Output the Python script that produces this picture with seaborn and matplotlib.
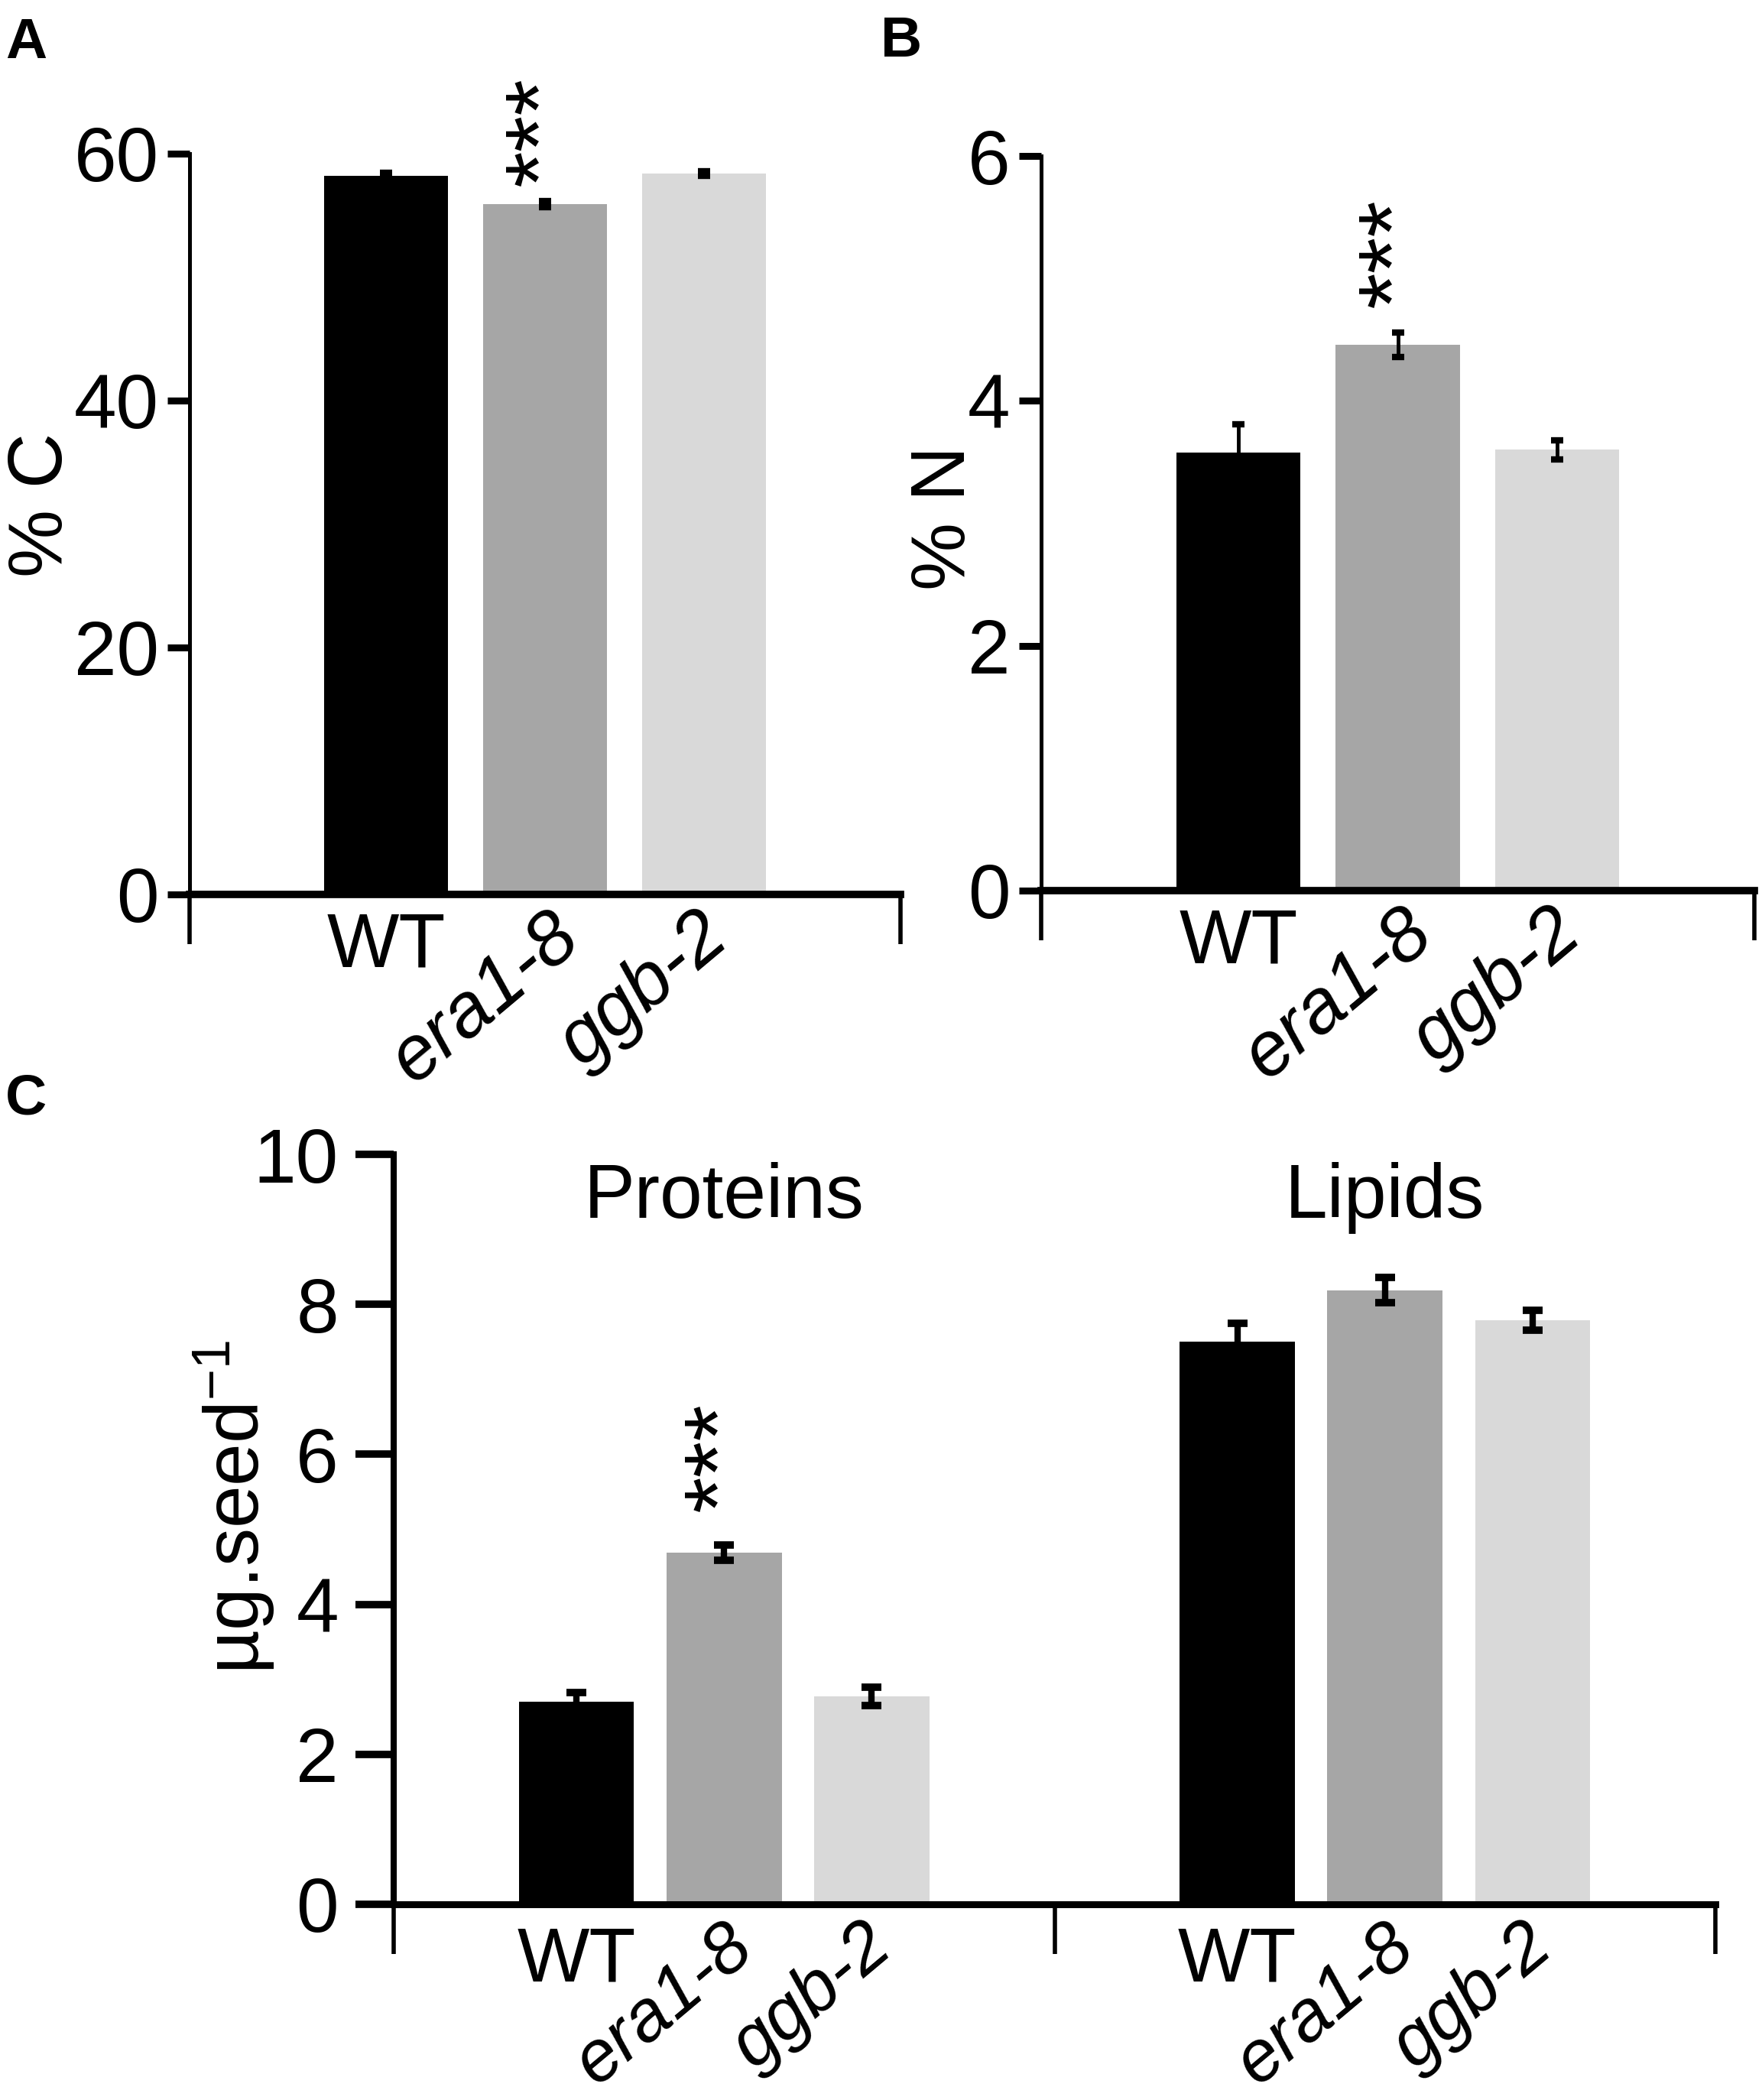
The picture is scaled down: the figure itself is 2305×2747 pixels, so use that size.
import numpy as np
import pandas as pd
import seaborn as sns
import matplotlib.pyplot as plt
from matplotlib import transforms

# data (mean, error)
genotypes = ['WT', 'era1-8', 'ggb-2']
bar_colors = ['#000000', '#a6a6a6', '#d9d9d9']

carbon_mean = [58.2, 55.9, 58.4]
carbon_err = [0.25, 0.25, 0.2]
carbon_star = [False, True, False]

nitrogen_mean = [3.58, 4.46, 3.60]
nitrogen_err = [0.23, 0.10, 0.08]
nitrogen_star = [False, True, False]

protein_mean = [2.70, 4.69, 2.77]
protein_err = [0.12, 0.10, 0.12]
protein_star = [False, True, False]

lipid_mean = [7.50, 8.19, 7.79]
lipid_err = [0.25, 0.17, 0.13]
lipid_star = [False, False, False]

seed_groups = ['Proteins', 'Lipids']

c_ticks = [0, 20, 40, 60]
n_ticks = [0, 2, 4, 6]
seed_ticks = [0, 2, 4, 6, 8, 10]

sns.set_theme(style='ticks')
plt.rcParams['font.family'] = ['Liberation Sans', 'DejaVu Sans']
plt.rcParams['mathtext.fontset'] = 'custom'
plt.rcParams['mathtext.rm'] = 'Liberation Sans'
plt.rcParams['mathtext.default'] = 'rm'
plt.rcParams['text.color'] = 'black'
plt.rcParams['axes.labelcolor'] = 'black'
plt.rcParams['axes.edgecolor'] = 'black'
plt.rcParams['xtick.color'] = 'black'
plt.rcParams['ytick.color'] = 'black'

fig = plt.figure(figsize=(23.05, 27.47), dpi=100)
W, H = 2305, 2747


def add_ax(x0, x1, ytop, ybot):
    return fig.add_axes([x0 / W, 1 - ybot / H, (x1 - x0) / W, (ybot - ytop) / H])


def shift(ax, dx, dy):
    # offset in pixels (dpi 100) on top of the x-axis transform
    return ax.get_xaxis_transform() + transforms.ScaledTranslation(
        dx / 100, dy / 100, fig.dpi_scale_trans)


def panel(ax, groups, means, errs, stars, yticks, ylabel, st):
    df = pd.DataFrame({
        'group': np.repeat(groups, len(genotypes)),
        'genotype': genotypes * len(groups),
        'value': np.concatenate(means),
        'err': np.concatenate(errs),
        'star': np.concatenate(stars),
    })
    sns.barplot(data=df, x='group', y='value', hue='genotype', order=groups,
                hue_order=genotypes, palette=bar_colors, width=0.67, gap=0.22,
                errorbar=None, saturation=1, linewidth=0, legend=False, ax=ax)
    group_pos = list(ax.get_xticks())
    bars = sorted(ax.patches, key=lambda p: p.get_x())
    xs = [p.get_x() + p.get_width() / 2 for p in bars]

    ax.errorbar(xs, df['value'], yerr=df['err'], fmt='none', ecolor='black',
                elinewidth=st['elw'], capsize=st['cap'], capthick=st['capthick'],
                zorder=3)

    for x, row in zip(xs, df.itertuples()):
        if row.star:
            ax.annotate('***', xy=(x, row.value + row.err), xytext=(0, st['star_gap']),
                        textcoords='offset points', rotation=90, ha='center',
                        va='bottom', fontsize=88, color='black')

    ax.set_xlim(-0.5, len(groups) - 0.5)
    ax.set_ylim(yticks[0], yticks[-1])
    ax.set_yticks(yticks)
    ax.set_xticks([])
    ax.set_xticks(np.arange(len(groups) + 1) - 0.5, minor=True)
    ax.set_xlabel('')
    ax.set_ylabel(ylabel, fontsize=72)
    ax.yaxis.set_label_coords(st['lab_x'], st['lab_y'])

    sns.despine(ax=ax)
    ax.spines['left'].set_linewidth(st['ylw'])
    ax.spines['bottom'].set_linewidth(st['xlw'])
    ax.tick_params(axis='y', length=st['ytl'], width=st['ytw'], pad=st['ypad'],
                   labelsize=72)
    ax.tick_params(axis='x', which='minor', length=47, width=4, direction='out')

    # genotype labels under each bar
    for x, g in zip(xs, df['genotype']):
        if g == 'WT':
            ax.text(x, 0, g, transform=shift(ax, 0, -st['wt_dy']), ha='center',
                    va='top', fontsize=72)
        else:
            ax.text(x, 0, g, transform=shift(ax, -78, -st['rot_dy']), ha='center',
                    va='top', fontsize=st['rot_fs'], fontstyle='italic', rotation=40)
    return group_pos


small = dict(elw=3.5, cap=5.5, capthick=6, ylw=3.6, xlw=7, ytl=21, ytw=6.5,
             ypad=8, wt_dy=22, rot_dy=8, rot_fs=72)
big = dict(elw=6, cap=9.5, capthick=7, ylw=5.8, xlw=6.5, ytl=36, ytw=7,
           ypad=16, wt_dy=28, rot_dy=10, rot_fs=68)

axA = add_ax(248, 1178, 201, 1170)
panel(axA, ['C'], [carbon_mean], [carbon_err], [carbon_star], c_ticks, '% C',
      dict(small, star_gap=14, lab_x=-0.157, lab_y=0.526))

axB = add_ax(1362, 2295, 204, 1165)
panel(axB, ['N'], [nitrogen_mean], [nitrogen_err], [nitrogen_star], n_ticks, '% N',
      dict(small, star_gap=23, lab_x=-0.085, lab_y=0.507))

axC = add_ax(515, 2244, 1510, 2491)
pos = panel(axC, seed_groups, [protein_mean, lipid_mean], [protein_err, lipid_err],
            [protein_star, lipid_star], seed_ticks, 'µg.seed$^{-1}$',
            dict(big, star_gap=31, lab_x=-0.0885, lab_y=0.53))
for x, name in zip(pos, seed_groups):
    axC.text(x, 9.15, name, ha='center', va='baseline', fontsize=72)

for letter, x, y in [('A', 7, 22), ('B', 1152, 20), ('C', 7, 1404)]:
    fig.text(x / W, 1 - y / H, letter, fontsize=54, fontweight='bold', va='top', ha='left')

fig.savefig('out.png', dpi=100)
